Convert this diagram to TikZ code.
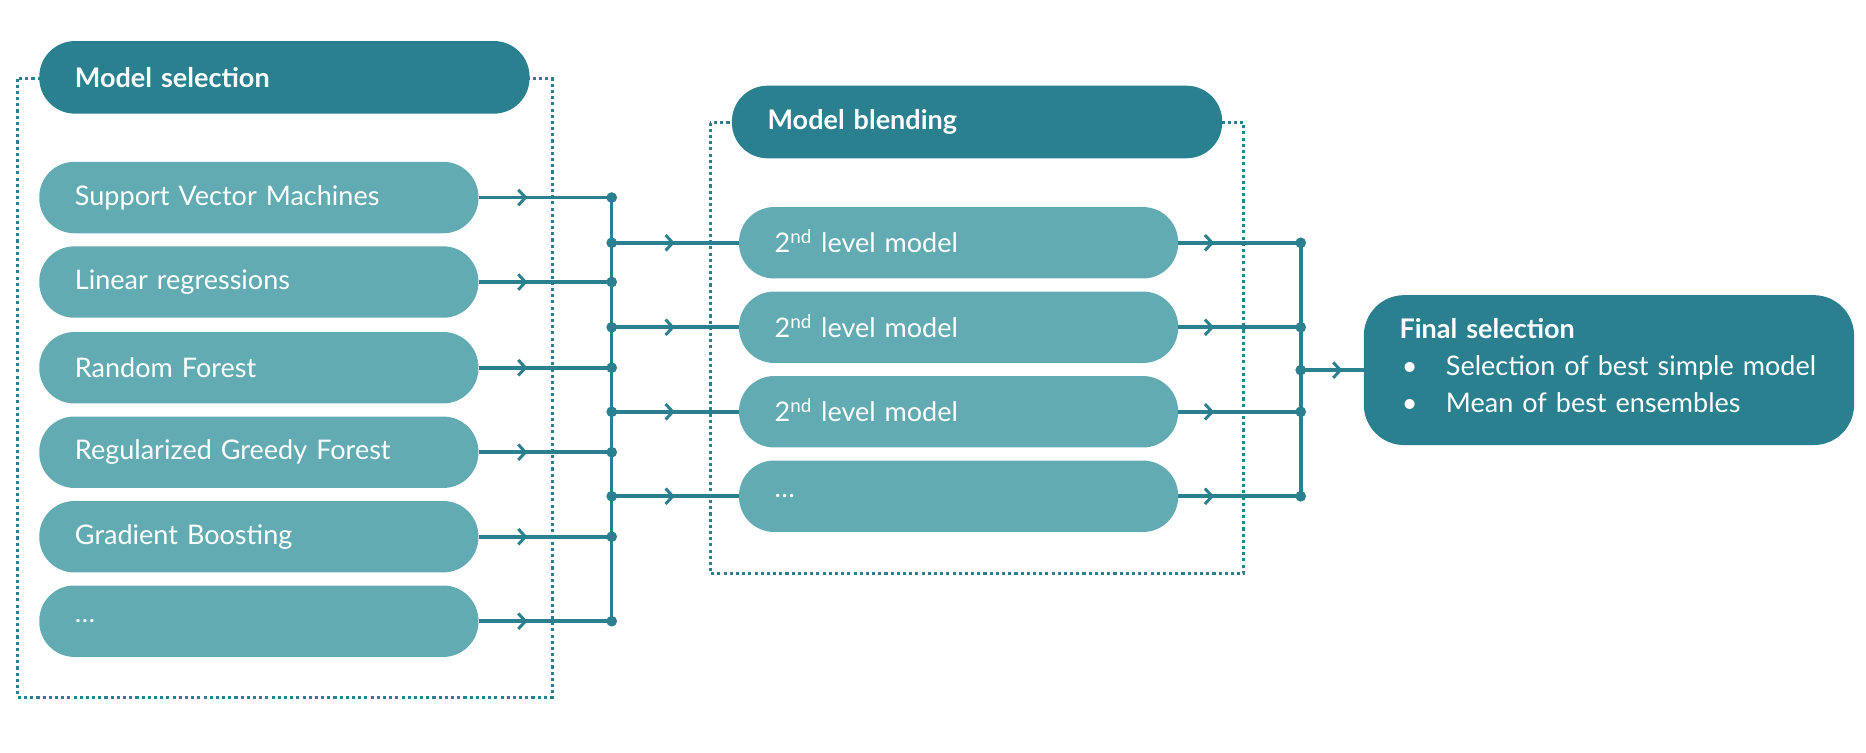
\documentclass[tikz,border=0pt]{standalone}
\usepackage{fontspec}
\setmainfont{Lato}
\usetikzlibrary{arrows.meta,decorations.markings}
\definecolor{darkteal}{HTML}{2A808E}
\definecolor{lightteal}{HTML}{62ABB2}
\begin{document}
\begin{tikzpicture}[x=1pt,y=-1pt,
  every node/.style={font=\fontsize{22.7}{31}\selectfont, text=white},
  header/.style={fill=darkteal, rounded corners=30pt, minimum width=412pt, minimum height=61pt,
    text width=352pt, inner xsep=30pt, inner ysep=0pt, align=left,
    font=\fontsize{22.7}{31}\selectfont\bfseries},
  pill/.style={fill=lightteal, rounded corners=29.5pt, minimum width=369pt, minimum height=60pt,
    text width=309pt, inner xsep=30pt, inner ysep=0pt, align=left},
  finalbox/.style={fill=darkteal, rounded corners=34pt, minimum width=412pt, minimum height=126pt,
    inner sep=0pt},
  fintext/.style={text width=352pt, inner sep=0pt, align=left},
  frame/.style={draw=darkteal, line width=2.5pt, dash pattern=on 2.6pt off 2.6pt},
  link/.style={draw=darkteal, line width=3pt},
  midarrow/.style={postaction={decorate}, decoration={markings,
    mark=at position #1 with {\arrow{Straight Barb[length=6pt,width=13pt,line width=2.5pt]}}}},
  jdot/.style={fill=darkteal}
]
\useasboundingbox (0,0) rectangle (1568,632);

% frames
\draw[frame] (15,66) rectangle (464,586);
\draw[frame] (597,103) rectangle (1045,482);

% headers
\node[header] (hsel) at (239,65) {Model selection};
\node[header] (hblend) at (821,102.5) {Model blending};

% left pills
\node[pill] (m1) at (217.5,166) {Support Vector Machines};
\node[pill] (m2) at (217.5,237) {Linear regressions};
\node[pill] (m3) at (217.5,309) {Random Forest};
\node[pill] (m4) at (217.5,380) {Regularized Greedy Forest};
\node[pill] (m5) at (217.5,451) {Gradient Boosting};
\node[pill] (m6) at (217.5,522) {\ldots};

% blending pills
\node[pill] (n1) at (805.5,204) {2\smash{\textsuperscript{nd}} level model};
\node[pill] (n2) at (805.5,275) {2\smash{\textsuperscript{nd}} level model};
\node[pill] (n3) at (805.5,346) {2\smash{\textsuperscript{nd}} level model};
\node[pill] (n4) at (805.5,417) {\ldots};

% final
\node[finalbox] (fin) at (1352,311) {};
\node[fintext, yshift=4pt] (fintxt) at (fin.center) {\textbf{Final selection}\\
  \mbox{\makebox[39pt][l]{\hspace{2pt}\textbullet}Selection of best simple model}\\
  \mbox{\makebox[39pt][l]{\hspace{2pt}\textbullet}Mean of best ensembles}};

% buses
\coordinate (b1top) at (514,166);
\coordinate (b1bot) at (514,522);
\coordinate (b2top) at (1093,204);
\coordinate (b2bot) at (1093,417);
\draw[link] (b1top) -- (b1bot);
\draw[link] (b2top) -- (b2bot);

\foreach \i in {1,...,6}{
  \draw[link, midarrow=41pt] (m\i.east) -- (m\i.east -| b1top);
  \fill[jdot] (m\i.east -| b1top) circle (4.5pt);
}
\foreach \i in {1,...,4}{
  \draw[link, midarrow=53pt] (n\i.west -| b1top) -- (n\i.west);
  \fill[jdot] (n\i.west -| b1top) circle (4.5pt);
  \draw[link, midarrow=30pt] (n\i.east) -- (n\i.east -| b2top);
  \fill[jdot] (n\i.east -| b2top) circle (4.5pt);
}
\draw[link, midarrow=35pt] (fin.west -| b2top) -- (fin.west);
\fill[jdot] (fin.west -| b2top) circle (4.5pt);
\end{tikzpicture}
\end{document}
